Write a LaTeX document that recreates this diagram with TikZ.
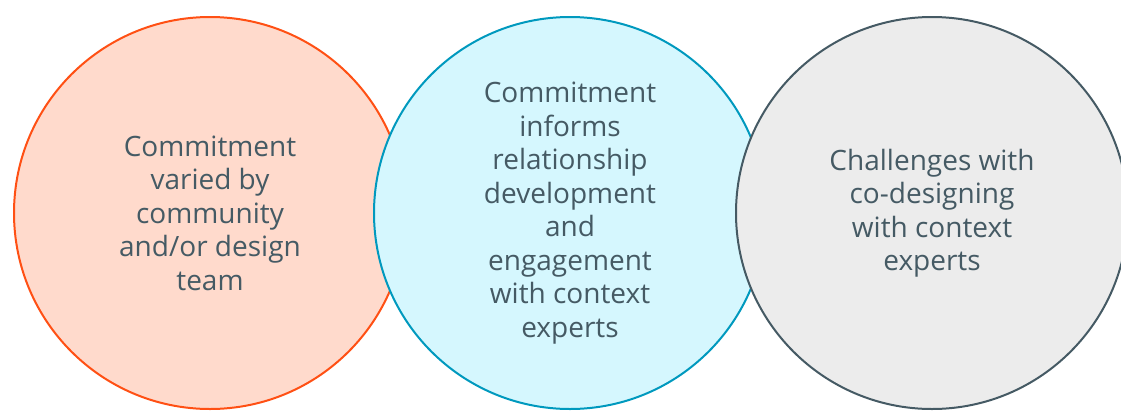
\documentclass[tikz,border=0pt]{standalone}
\usepackage{fontspec}
\setmainfont{Open Sans}
\definecolor{txtgray}{HTML}{455A64}
\definecolor{peachfill}{HTML}{FFDACC}
\definecolor{peachline}{HTML}{FF5014}
\definecolor{cyanfill}{HTML}{D5F7FE}
\definecolor{cyanline}{HTML}{0099BE}
\definecolor{grayfill}{HTML}{ECECEC}
\definecolor{grayline}{HTML}{455A64}
\tikzset{every picture/.style={line width=1.5pt},
  bubble/.style={circle, inner sep=0pt, minimum size=294pt, align=center,
    text=txtgray, font=\fontsize{21}{25.1}\selectfont}}

\begin{document}
\begin{tikzpicture}[x=0.75pt,y=0.75pt,yscale=-1,xscale=1]
	\useasboundingbox (0,0) rectangle (1121,411);
	\clip (0,0) rectangle (1121,411);

	%Shape: Circle [left]
	\node[bubble, draw=peachline, fill=peachfill] (varied) at (210,213) {Commitment\\varied by\\community\\and/or design\\team};
	%Shape: Circle [middle]
	\node[bubble, draw=cyanline, fill=cyanfill] (informs) at (570,213) {Commitment\\informs\\relationship\\development\\and\\engagement\\with context\\experts};
	%Shape: Circle [right]
	\node[bubble, draw=grayline, fill=grayfill] (challenges) at (932,213) {Challenges with\\co-designing\\with context\\experts};

\end{tikzpicture}
\end{document}
